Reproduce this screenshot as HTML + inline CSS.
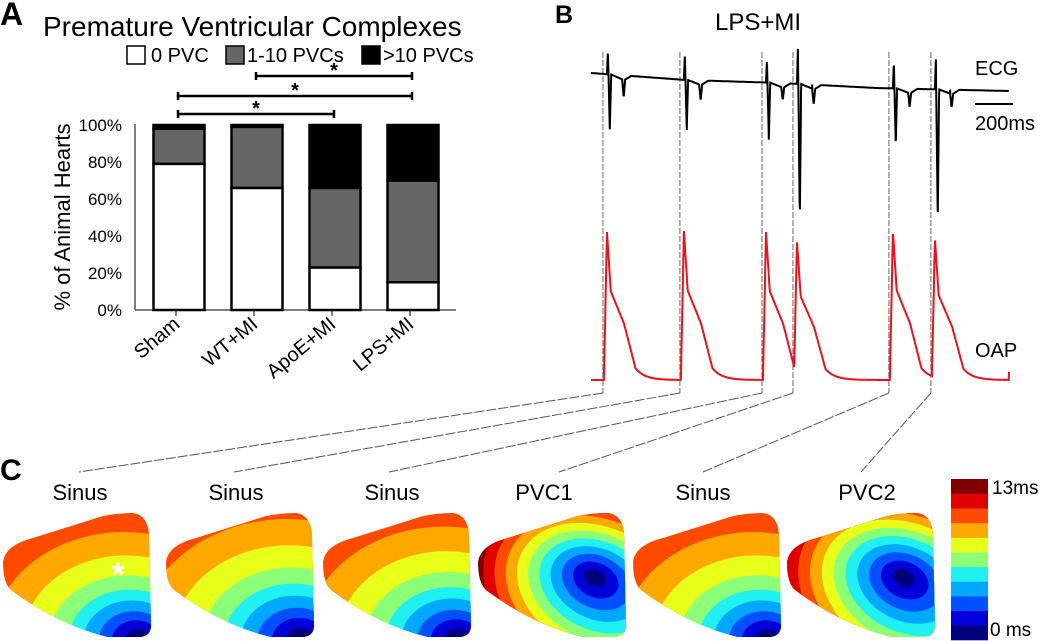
<!DOCTYPE html>
<html><head><meta charset="utf-8"><style>
html,body{margin:0;padding:0;background:#fff;overflow:hidden;width:1050px;height:641px;}
svg{display:block;font-family:"Liberation Sans",Arial,sans-serif;}
</style></head><body>
<svg id="fig" width="1050" height="641" viewBox="0 0 1050 641" xmlns="http://www.w3.org/2000/svg">
<g id="panelA">
<text x="0" y="25" font-size="32" font-weight="bold">A</text>
<text x="43" y="36" font-size="28">Premature Ventricular Complexes</text>
<g>
<rect x="127" y="46" width="18" height="18" fill="#fff" stroke="#000" stroke-width="1.5"/>
<text x="151" y="62" font-size="20">0 PVC</text>
<rect x="226" y="46" width="18" height="18" fill="#666" stroke="#000" stroke-width="1.5"/>
<text x="247" y="62" font-size="20">1-10 PVCs</text>
<rect x="362" y="46" width="18" height="18" fill="#000" stroke="#000" stroke-width="1.5"/>
<text x="383" y="62" font-size="20">&gt;10 PVCs</text>
</g>
<g id="sig"></g>
<g id="axesA"></g>
<g id="barsA"></g>
<text transform="translate(70,217) rotate(-90)" text-anchor="middle" font-size="22">% of Animal Hearts</text>
</g>

<g id="panelB">
<text x="555" y="23" font-size="25" font-weight="bold">B</text>
<text x="715" y="30" font-size="24">LPS+MI</text>
<text x="975" y="75" font-size="20">ECG</text>
<text x="975" y="357" font-size="20">OAP</text>
<line x1="975" y1="104" x2="1013" y2="104" stroke="#000" stroke-width="2"/>
<text x="975" y="130" font-size="20">200ms</text>
<g id="guides"></g>
<path id="ecg" fill="none" stroke="#000" stroke-width="2"/>
<path id="oap" fill="none" stroke="#e8141b" stroke-width="2"/>
</g>

<g id="panelC">
<text x="0" y="480" font-size="30" font-weight="bold">C</text>
<g id="maps"></g>
<g id="cbar"></g>
<text x="992" y="494" font-size="19">13ms</text>
<text x="990" y="636" font-size="19">0 ms</text>
</g>
</svg>
<script>
// ---------- Panel A data ----------
const categories = ["Sham","WT+MI","ApoE+MI","LPS+MI"];
const zeroPVC = [79, 66, 23, 15];
const lowPVC = [19, 33, 43, 55];
const highPVC = [2, 1, 34, 30];
const yTicks = [0,20,40,60,80,100];
const sigPairs = [[1,3],[0,3],[0,2]];
// ---------- Panel B data ----------
const beatTimes = [84, 489, 921, 1084, 1589, 1810];      // ms
const ecgUp = [23, 26, 23, 35, 27, 30];                   // a.u.
const ecgDown = [-55, -50, -57, -135, -57, -132];
const ecgTwave = [-18, -16, -13, -16, -14, -14];
const oapPeak = [148, 149, 148, 139, 149, 141];
const baseTimes = [0, 500, 1000, 1500, 2200];
const baseVals = [0, -7, -10, -15, -18];
// ---------- Panel C data ----------
const mapLabels = ["Sinus","Sinus","Sinus","PVC1","Sinus","PVC2"];
const mapTypes = ["sinus","sinus","sinus","pvc","sinus","pvc"];
const mapSpread = [1.0, 1.12, 1.05, 1.0, 1.0, 1.05];
const jet = ["#00007f","#0000d8","#0050ff","#00a8ff","#20f0f0","#8cff78","#e8ff1a","#ffa800","#ff4a00","#e00000","#800000"];

const NS="http://www.w3.org/2000/svg";
function mk(tag, attrs, parent){const e=document.createElementNS(NS,tag);for(const k in attrs)e.setAttribute(k,attrs[k]);parent.appendChild(e);return e;}

// ---- Panel A ----
const y0=310, y100=125, xAxis0=135, xAxis1=456;
const yA = v => y0 - (y0-y100)*v/100;
const xA = i => 179 + i*78;
const barW = 51;
const axes = document.getElementById('axesA');
let ax = mk('line',{x1:xAxis0,y1:124,x2:xAxis0,y2:y0,stroke:'#555','stroke-width':1.5},axes);


ax = mk('line',{x1:xAxis0,y1:y0,x2:xAxis1,y2:y0,stroke:'#555','stroke-width':1.5},axes);


yTicks.forEach(v=>{
  const t=mk('text',{x:122,y:yA(v)+6,'text-anchor':'end','font-size':17},axes);
  t.textContent=v+'%';
  
  
});
categories.forEach((c,i)=>{
  const tk=mk('line',{x1:xA(i)-3,y1:y0,x2:xA(i)-3,y2:y0+6,stroke:'#555','stroke-width':1.5},axes);
  
  
  const t=mk('text',{transform:`translate(${xA(i)+2},${y0+16}) rotate(-40)`,'text-anchor':'end','font-size':20},axes);
  t.textContent=c;
  
  
});
const bars=document.getElementById('barsA');
categories.forEach((c,i)=>{
  const segs=[[0,zeroPVC[i],'#fff','0pvc'],[zeroPVC[i],zeroPVC[i]+lowPVC[i],'#666','1-10pvcs'],[zeroPVC[i]+lowPVC[i],zeroPVC[i]+lowPVC[i]+highPVC[i],'#000','gt10pvcs']];
  segs.forEach(s=>{
    const r=mk('rect',{x:xA(i)-barW/2,y:yA(s[1]),width:barW,height:yA(s[0])-yA(s[1]),fill:s[2],stroke:'#000','stroke-width':2.5},bars);
    
    
  });
});
const sig=document.getElementById('sig');
const sigY=[76,96,114];
sigPairs.forEach((p,k)=>{
  const x1=xA(p[0])-1, x2=xA(p[1])-1, y=sigY[k];
  const g=mk('g',{},sig);
  
  
  mk('line',{x1:x1,y1:y,x2:x2,y2:y,stroke:'#000','stroke-width':2.5},g);
  mk('line',{x1:x1,y1:y-4,x2:x1,y2:y+4,stroke:'#000','stroke-width':2.5},g);
  mk('line',{x1:x2,y1:y-4,x2:x2,y2:y+4,stroke:'#000','stroke-width':2.5},g);
  const t=mk('text',{x:(x1+x2)/2,y:y+1,'text-anchor':'middle','font-size':20,'font-weight':'bold'},g);
  t.textContent='*';
});

// ---- Panel B ----
const tx = t => 591 + t*0.19;
const ecgY0=73, oapY0=380;
function base(t){for(let i=0;i<baseTimes.length-1;i++){if(t<=baseTimes[i+1]){const f=(t-baseTimes[i])/(baseTimes[i+1]-baseTimes[i]);return baseVals[i]+f*(baseVals[i+1]-baseVals[i]);}}return baseVals[baseVals.length-1];}
function ecgVal(t){
  let v=base(t);
  beatTimes.forEach((b,i)=>{
    const d=t-b;
    if(d>=0&&d<5) v+=ecgUp[i]*d/5;
    else if(d>=5&&d<15) v+=ecgUp[i]+(ecgDown[i]-ecgUp[i])*(d-5)/10;
    else if(d>=15&&d<22) v+=ecgDown[i]*(1-(d-15)/7);
    if(d>=22&&d<80) v+=-4*(d-22)/58;
    const td=d-88; if(td>-8&&td<8) v+=ecgTwave[i]*(1-Math.abs(td)/8)-4; else if(td>=8&&td<40) v+=-4*(1-(td-8)/32);
  });
  return v;
}
function shape(d){
  if(d<0) return 0;
  if(d<16) return d/16;
  d-=16;
  if(d<20) return 1-0.4*d/20;
  if(d<90) return 0.6-0.22*(d-20)/70;
  if(d<150) return 0.38-0.3*(d-90)/60;
  return 0.08*Math.exp(-(d-150)/50);
}
function oapVal(t){
  let v=0;
  beatTimes.forEach((b,i)=>{const s=oapPeak[i]*shape(t-b+16); if(s>v)v=s;});
  return v;
}
let dE='',dO='';
for(let t=0;t<=2200;t+=1.5){
  const x=tx(t).toFixed(1);
  dE+=(t===0?'M':'L')+x+','+(ecgY0-ecgVal(t)).toFixed(1);
  dO+=(t===0?'M':'L')+x+','+(oapY0-oapVal(t)).toFixed(1);
}
dO+='L'+tx(2200).toFixed(1)+','+(oapY0-8);
document.getElementById('ecg').setAttribute('d',dE);
document.getElementById('oap').setAttribute('d',dO);

// guides
const guides=document.getElementById('guides');
const labelX=[79,234,389,559,703,861];
const labelCx=[80,236,392,544,703,867];
const mapStart=[3,166,323,478,633,787];
beatTimes.forEach((b,i)=>{
  const gx=tx(b)-4;
  const v=mk('line',{x1:gx,y1:52,x2:gx,y2:393,stroke:'#666','stroke-width':1,'stroke-dasharray':'6,2'},guides);
  
  
  const s=mk('line',{x1:gx,y1:393,x2:labelX[i],y2:472,stroke:'#555','stroke-width':1,'stroke-dasharray':'10,2'},guides);
  
  
});

// ---- Panel C ----
const maps=document.getElementById('maps');
function heartPath(s){
  return `M${s},562 Q${s+2},545 ${s+30},538 L${s+100},516 Q${s+115},513 ${s+130},513 Q${s+145},515 ${s+146},535 L${s+148},625 Q${s+148},637 ${s+135},637 L${s+105},637 Q${s+55},625 ${s+8},590 Q${s},583 ${s},562 Z`;
}
const sinusR=[12,22,32,44,56,72,94,120];
mapTypes.forEach((type,i)=>{
  const s=mapStart[i];
  const g=mk('g',{},maps);
  
  
  const cp=mk('clipPath',{id:'hc'+i},g);
  mk('path',{d:heartPath(s)},cp);
  const inner=mk('g',{'clip-path':`url(#hc${i})`},g);
  const sp=mapSpread[i];
  if(type==='sinus'){
    mk('rect',{x:s-5,y:505,width:160,height:134,fill:jet[8]},inner);
    const cx=s+135, cy=640;
    for(let k=7;k>=0;k--){
      const r=sinusR[k]*sp;
      mk('ellipse',{cx:cx-k*2,cy:cy,rx:r*1.1,ry:r*0.9,fill:jet[k]},inner);
    }
  } else {
    mk('rect',{x:s-5,y:505,width:160,height:134,fill:jet[10]},inner);
    const cx=s+117, cy=578;
    for(let k=9;k>=0;k--){
      const r=(9+k*10)*sp;
      mk('ellipse',{cx:cx+k*1.5,cy:cy+k*1.5,rx:r*1.25,ry:r*0.9,fill:jet[k],transform:`rotate(25 ${cx} ${cy})`},inner);
    }
  }
  const t=mk('text',{x:labelCx[i],y:500,'text-anchor':'middle','font-size':22},g);
  t.textContent=mapLabels[i];
  
  
});
const ast=mk('text',{x:118,y:586,'text-anchor':'middle','font-size':34,fill:'#fff','font-weight':'bold'},maps);
ast.textContent='*';


const cbar=document.getElementById('cbar');
const bandH=(640-479)/jet.length;
jet.forEach((c,k)=>{
  const r=mk('rect',{x:951,y:640-(k+1)*bandH,width:37,height:bandH+0.3,fill:c},cbar);
  
  
});
</script>
</body></html>
